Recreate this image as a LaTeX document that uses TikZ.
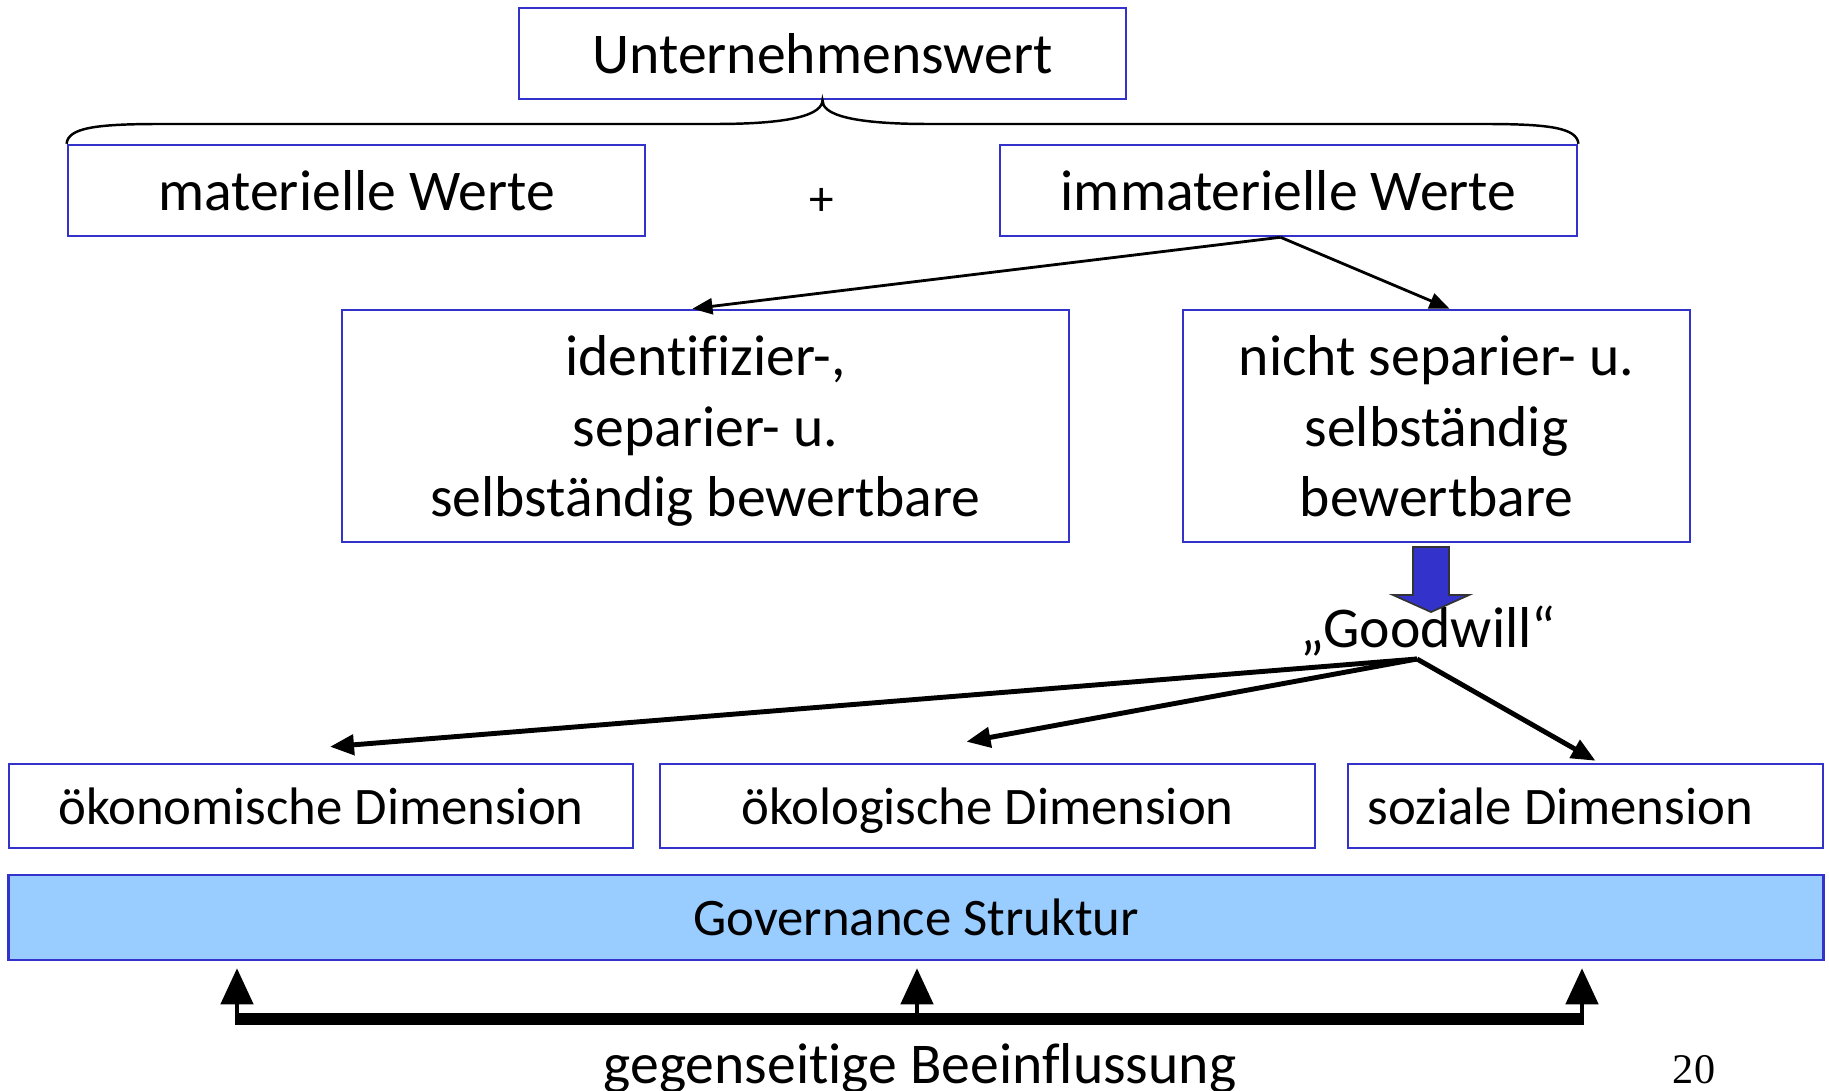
\documentclass[tikz,border=0pt]{standalone}
\usepackage{fontspec}
\setmainfont{Carlito}[Ligatures=CommonOff]
\newfontfamily\pagefont{Liberation Serif}
\usetikzlibrary{arrows.meta}
\definecolor{boxblue}{RGB}{51,51,204}
\definecolor{govblue}{RGB}{153,204,255}

\begin{document}
\begin{tikzpicture}[x=0.01cm,y=-0.01cm,->,>={Triangle[length=0.2cm,width=0.16cm]},
        box/.style={rectangle,draw=boxblue,line width=0.7pt,align=center,inner sep=0pt,
          text depth=0pt,font=\fontsize{16.4}{20}\selectfont},
        dim box/.style={box,minimum height=0.84cm,font=\fontsize{15}{18}\selectfont}]

      \useasboundingbox (0,0) rectangle (1829,1091);

      \node[box,minimum width=6.07cm,minimum height=0.91cm] (1) at (822.5,53.5) {Unternehmenswert};
      \node[box,minimum width=5.77cm,minimum height=0.91cm] (2) at (356.5,190.5) {materielle Werte};
      \node[box,minimum width=5.77cm,minimum height=0.91cm] (3) at (1288.5,190.5) {immaterielle Werte};
      \node[font=\fontsize{14}{16}\selectfont] (plus) at (822,202) {+};
      \node[box,minimum width=7.27cm,minimum height=2.32cm] (4) at (705.5,426)
        {identifizier-,\\separier- u.\\selbständig bewertbare};
      \node[box,minimum width=5.07cm,minimum height=2.32cm] (5) at (1436.5,426)
        {nicht separier- u.\\selbständig\\bewertbare};
      \node[anchor=base,font=\fontsize{16.4}{20}\selectfont] (6) at (1428,647) {„Goodwill“};
      \node[dim box,minimum width=6.24cm] (7) at (321,806) {ökonomische Dimension};
      \node[dim box,minimum width=6.55cm] (8) at (987.5,806) {ökologische Dimension};
      \node[dim box,align=flush left,text width=4.35cm,inner xsep=0.2cm] (9) at (1585.5,806) {soziale Dimension};
      \node[dim box,fill=govblue,minimum width=18.14cm,minimum height=0.85cm] (10) at (916,917.5)
        {Governance Struktur};
      \node[anchor=base,font=\fontsize{16.4}{20}\selectfont] (11) at (920,1083) {gegenseitige Beeinflussung};
      \node[anchor=base,font=\pagefont\fontsize{12}{14}\selectfont] (12) at (1694,1083) {20};

      % brace
      \draw[-,line width=0.7pt] (2.north west) .. controls (68,128) and (95,124) .. (160,124)
        -- (715,124) .. controls (795,124) and (822,114) .. (1.south)
        .. controls (822,114) and (849,124) .. (929,124)
        -- (1485,124) .. controls (1550,124) and (1577,128) .. (3.north east);

      \path[line width=0.8pt]
        ([xshift=-0.08cm]3.south) edge ([xshift=-0.13cm]4.north)
        ([xshift=-0.08cm]3.south) edge ([xshift=0.13cm]5.north);

      % block arrow
      \draw[-,fill=boxblue,draw=black!80,line width=0.5pt] (1413,547) -- (1449,547) -- (1449,595)
        -- (1469,595) -- (1431,612) -- (1393,595) -- (1413,595) -- cycle;

      \coordinate (g) at (1417,659);
      \path[line width=1.4pt,>={Triangle[length=0.24cm,width=0.2cm]}]
        (g) edge ([xshift=0.09cm,yshift=0.16cm]7.north)
        (g) edge ([xshift=-0.21cm,yshift=0.21cm]8.north)
        (g) edge ([xshift=0.1cm,yshift=0.02cm]9.north);

      % mutual influence
      \coordinate (a1) at (237,1019);
      \coordinate (a2) at (917,1019);
      \coordinate (a3) at (1582,1019);
      \draw[-,line width=3.4pt] ([xshift=-0.02cm]a1) -- ([xshift=0.02cm]a3);
      \path[line width=1.3pt,shorten >=0.07cm,>={Triangle[length=0.36cm,width=0.32cm]}]
        (a1) edge (a1 |- 10.south)
        (a2) edge (a2 |- 10.south)
        (a3) edge (a3 |- 10.south);
    \end{tikzpicture}
\end{document}
